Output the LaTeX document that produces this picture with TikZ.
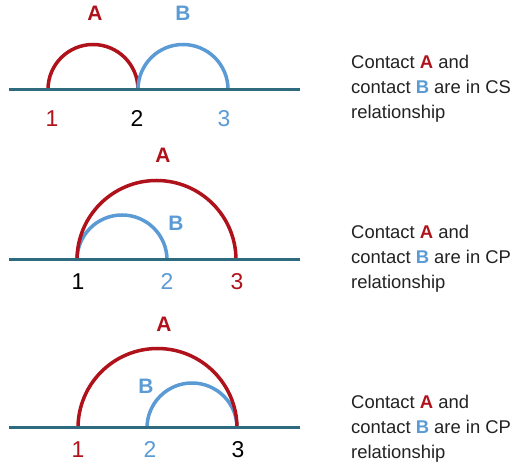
\documentclass[tikz,border=0pt]{standalone}
\usepackage{fontspec}
\setmainfont{Liberation Sans}
\definecolor{cred}{HTML}{B0121B}
\definecolor{cblue}{HTML}{5B9BD5}
\definecolor{cline}{HTML}{2E6B7F}
\definecolor{ctext}{HTML}{222222}
\begin{document}
\begin{tikzpicture}[x=1bp,y=1bp,
  axis/.style={draw=cline,line width=3bp},
  arcA/.style={draw=cred,line width=3.5bp},
  arcB/.style={draw=cblue,line width=3.5bp},
  lbl/.style={anchor=base,inner sep=0pt,font=\fontsize{21}{25}\selectfont\bfseries},
  num/.style={anchor=base,inner sep=0pt,font=\fontsize{23}{27}\selectfont},
  desc/.style={anchor=base west,inner sep=0pt,text=ctext,font=\fontsize{18.5}{25}\selectfont}]
\useasboundingbox (0,0) rectangle (516,465);
% ---------- panel 1 ----------
\draw[arcA] (48,375.5) arc[start angle=180,end angle=0,radius=45];
\draw[arcB] (138,375.5) arc[start angle=180,end angle=0,radius=45];
\coordinate (l1a) at (9,375.5);
\coordinate (l1b) at (300,375.5);
\draw[axis] (l1a) -- (l1b);
\node[lbl,text=cred] (pA1) at (95,444) {A};
\node[lbl,text=cblue] (pB1) at (183,444) {B};
\node[num,text=cred] (n11) at (52,338) {1};
\node[num,text=black] (n12) at (137,338) {2};
\node[num,text=cblue] (n13) at (224,338) {3};
\node[desc] (t11) at (351,396) {Contact \textbf{\color{cred}A} and};
\node[desc] (t12) at (351,371) {contact \textbf{\color{cblue}B} are in CS};
\node[desc] (t13) at (351,346) {relationship};
% ---------- panel 2 ----------
\draw[arcB] (77,205) arc[start angle=180,end angle=0,radius=45];
\draw[arcA] (77,205) arc[start angle=180,end angle=0,radius=79.5];
\coordinate (l2a) at (9,205);
\coordinate (l2b) at (300,205);
\draw[axis] (l2a) -- (l2b);
\node[lbl,text=cred] (pA2) at (163,302) {A};
\node[lbl,text=cblue] (pB2) at (176,234) {B};
\node[num,text=black] (n21) at (78,175) {1};
\node[num,text=cblue] (n22) at (167,175) {2};
\node[num,text=cred] (n23) at (237,175) {3};
\node[desc] (t21) at (351,226) {Contact \textbf{\color{cred}A} and};
\node[desc] (t22) at (351,201) {contact \textbf{\color{cblue}B} are in CP};
\node[desc] (t23) at (351,176) {relationship};
% ---------- panel 3 ----------
\draw[arcB] (147,37) arc[start angle=180,end angle=0,radius=45];
\draw[arcA] (78,37) arc[start angle=180,end angle=0,radius=79.5];
\coordinate (l3a) at (9,37);
\coordinate (l3b) at (300,37);
\draw[axis] (l3a) -- (l3b);
\node[lbl,text=cred] (pA3) at (164,133) {A};
\node[lbl,text=cblue] (pB3) at (146,71) {B};
\node[num,text=cred] (n31) at (78,7) {1};
\node[num,text=cblue] (n32) at (150,7) {2};
\node[num,text=black] (n33) at (238,7) {3};
\node[desc] (t31) at (351,56) {Contact \textbf{\color{cred}A} and};
\node[desc] (t32) at (351,31) {contact \textbf{\color{cblue}B} are in CP};
\node[desc] (t33) at (351,6) {relationship};
\end{tikzpicture}
\end{document}
